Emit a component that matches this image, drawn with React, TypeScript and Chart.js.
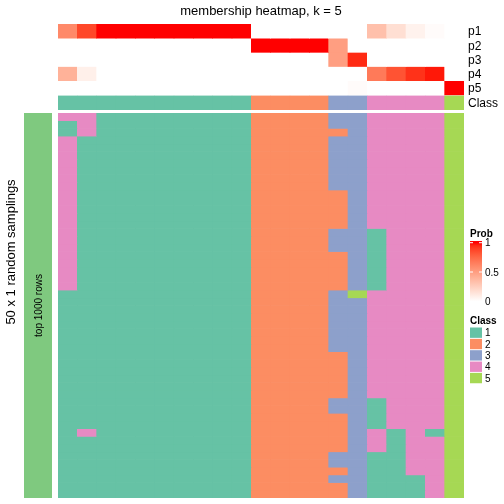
import React, { useEffect, useRef } from "react";
import { Chart, registerables } from "chart.js";

Chart.register(...registerables);

// ---------------- data ----------------
const SAMPLES = ["S1", "S2", "S3", "S4", "S5", "S6", "S7", "S8", "S9", "S10", "S11", "S12", "S13", "S14", "S15", "S16", "S17", "S18", "S19", "S20", "S21"];
const PROB_ROWS = ["p1", "p2", "p3", "p4", "p5"];
const P1 = [0.6, 0.87, 1, 1, 1, 1, 1, 1, 1, 1, 0, 0, 0, 0, 0, 0, 0.33, 0.17, 0.07, 0.02, 0];
const P2 = [0, 0, 0, 0, 0, 0, 0, 0, 0, 0, 1, 1, 1, 1, 0.5, 0, 0, 0, 0, 0, 0];
const P3 = [0, 0, 0, 0, 0, 0, 0, 0, 0, 0, 0, 0, 0, 0, 0.5, 0.95, 0, 0, 0, 0, 0];
const P4 = [0.4, 0.08, 0, 0, 0, 0, 0, 0, 0, 0, 0, 0, 0, 0, 0, 0, 0.67, 0.83, 0.93, 0.98, 0];
const P5 = [0, 0, 0, 0, 0, 0, 0, 0, 0, 0, 0, 0, 0, 0, 0, 0.02, 0, 0, 0, 0, 1];
const SAMPLE_CLASS = [1, 1, 1, 1, 1, 1, 1, 1, 1, 1, 2, 2, 2, 2, 3, 3, 4, 4, 4, 4, 5];
const CLASS_LABELS = ["1", "2", "3", "4", "5"];
const CLASS_COLORS = ["#66C2A5", "#FC8D62", "#8DA0CB", "#E78AC3", "#A6D854"];
const PROB_TICKS = [0, 0.5, 1];
// class of each sample (column) in each of the 50 random samplings (rows)
const SAMPLINGS = [
  "441111111122223344445",
  "141111111122223344445",
  "141111111122222344445",
  "411111111122223344445",
  "411111111122223344445",
  "411111111122223344445",
  "411111111122223344445",
  "411111111122223344445",
  "411111111122223344445",
  "411111111122223344445",
  "411111111122222344445",
  "411111111122222344445",
  "411111111122222344445",
  "411111111122222344445",
  "411111111122222344445",
  "411111111122223314445",
  "411111111122223314445",
  "411111111122223314445",
  "411111111122222314445",
  "411111111122222314445",
  "411111111122222314445",
  "411111111122222314445",
  "411111111122222314445",
  "111111111122223544445",
  "111111111122223344445",
  "111111111122223344445",
  "111111111122223344445",
  "111111111122223344445",
  "111111111122223344445",
  "111111111122223344445",
  "111111111122223344445",
  "111111111122222344445",
  "111111111122222344445",
  "111111111122222344445",
  "111111111122222344445",
  "111111111122222344445",
  "111111111122222344445",
  "111111111122223314445",
  "111111111122223314445",
  "111111111122222314445",
  "111111111122222314445",
  "141111111122222341415",
  "111111111122222341445",
  "111111111122222341445",
  "111111111122223311445",
  "111111111122223311445",
  "111111111122222311445",
  "111111111122223311145",
  "111111111122222311145",
  "111111111122222311145",
];
const TITLE = "membership heatmap, k = 5";
const ROW_TITLE = "50 x 1 random samplings";
const ANNO_LABEL = "top 1000 rows";
const ANNO_COLOR = "#7FC97F";

// ---------------- styling helpers ----------------
const FONT = "'Liberation Sans', Arial, Helvetica, sans-serif";
const W = 504;
const TOP_H = 112;
const MAIN_H = 504 - TOP_H;

function probColor(v: number): string {
  // white -> red interpolated in CIELAB
  const L = 100 + (53.2408 - 100) * v;
  const A = 80.0925 * v;
  const B = 67.2032 * v;
  const fy = (L + 16) / 116;
  const fx = fy + A / 500;
  const fz = fy - B / 200;
  const f = (t: number) => (t * t * t > 0.008856 ? t * t * t : (t - 16 / 116) / 7.787);
  const X = 0.95047 * f(fx);
  const Y = 1.0 * f(fy);
  const Z = 1.08883 * f(fz);
  const lin = [
    3.2406 * X - 1.5372 * Y - 0.4986 * Z,
    -0.9689 * X + 1.8758 * Y + 0.0415 * Z,
    0.0557 * X - 0.204 * Y + 1.057 * Z,
  ];
  const g = lin.map((c) => {
    const s = c <= 0.0031308 ? 12.92 * c : 1.055 * Math.pow(Math.max(c, 0), 1 / 2.4) - 0.055;
    return Math.round(Math.min(1, Math.max(0, s)) * 255);
  });
  return `rgb(${g[0]},${g[1]},${g[2]})`;
}

const barBase = {
  grouped: false,
  barPercentage: 1,
  categoryPercentage: 1,
  borderWidth: 0,
};

export default function App() {
  const topRef = useRef<HTMLCanvasElement | null>(null);
  const mainRef = useRef<HTMLCanvasElement | null>(null);

  useEffect(() => {
    const topRows = [P1, P2, P3, P4, P5];
    const CLASS_LO = 5.07;
    const topDatasets: any[] = topRows.map((vals, i) => ({
      ...barBase,
      label: PROB_ROWS[i],
      data: vals.map(() => [i, i + 1]),
      backgroundColor: vals.map(probColor),
    }));
    topDatasets.push({
      ...barBase,
      label: "Class",
      data: SAMPLE_CLASS.map(() => [CLASS_LO, CLASS_LO + 1]),
      backgroundColor: SAMPLE_CLASS.map((k) => CLASS_COLORS[k - 1]),
    });

    const topPlugin = {
      id: "topText",
      afterDraw(chart: any) {
        const ctx = chart.ctx;
        const { left, right } = chart.chartArea;
        const y = chart.scales.y;
        ctx.save();
        ctx.fillStyle = "#000";
        ctx.font = `13px ${FONT}`;
        ctx.textAlign = "center";
        ctx.textBaseline = "alphabetic";
        ctx.fillText(TITLE, (left + right) / 2, 14.7);
        ctx.font = `12px ${FONT}`;
        ctx.textAlign = "left";
        const names = [...PROB_ROWS, "Class"];
        const centers = [0.5, 1.5, 2.5, 3.5, 4.5, CLASS_LO + 0.5];
        names.forEach((n, i) => {
          ctx.fillText(n, right + 4, y.getPixelForValue(centers[i]) + 4.3);
        });
        ctx.restore();
      },
    };

    const topChart = new Chart(topRef.current as HTMLCanvasElement, {
      type: "bar",
      data: { labels: SAMPLES, datasets: topDatasets },
      options: {
        animation: false,
        responsive: false,
        devicePixelRatio: 1,
        layout: { padding: { left: 58, right: 40, top: 24, bottom: 2 } },
        plugins: { legend: { display: false }, tooltip: { enabled: false }, title: { display: false } },
        scales: {
          x: { display: false },
          y: { display: false, min: 0, max: CLASS_LO + 1, reverse: true },
        },
      },
      plugins: [topPlugin],
    } as any);

    const mainDatasets = SAMPLINGS.map((row, r) => ({
      ...barBase,
      label: `sampling ${r + 1}`,
      data: SAMPLES.map(() => [r, r + 1]),
      backgroundColor: row.split("").map((ch) => CLASS_COLORS[Number(ch) - 1]),
    }));

    const mainPlugin = {
      id: "mainDecor",
      afterDraw(chart: any) {
        const ctx = chart.ctx;
        const { top, bottom } = chart.chartArea;
        const off = TOP_H;
        ctx.save();
        // left annotation bar
        ctx.fillStyle = ANNO_COLOR;
        ctx.fillRect(24, top, 28, bottom - top);
        ctx.fillStyle = "#000";
        // anno label
        ctx.save();
        ctx.translate(41.5, (top + bottom) / 2);
        ctx.rotate(-Math.PI / 2);
        ctx.font = `10px ${FONT}`;
        ctx.textAlign = "center";
        ctx.textBaseline = "alphabetic";
        ctx.fillText(ANNO_LABEL, 0, 0);
        ctx.restore();
        // row title
        ctx.save();
        ctx.translate(15, 252 - off);
        ctx.rotate(-Math.PI / 2);
        ctx.font = `13px ${FONT}`;
        ctx.textAlign = "center";
        ctx.textBaseline = "alphabetic";
        ctx.fillText(ROW_TITLE, 0, 0);
        ctx.restore();

        // Prob legend
        const lx = 470;
        ctx.font = `bold 10px ${FONT}`;
        ctx.textAlign = "left";
        ctx.fillText("Prob", lx, 237 - off);
        const gTop = 241 - off;
        const gBot = 303 - off;
        const v1 = 242.7 - off;
        const v0 = 301.3 - off;
        const grad = ctx.createLinearGradient(0, v1, 0, v0);
        for (let i = 0; i <= 20; i++) {
          grad.addColorStop(i / 20, probColor(1 - i / 20));
        }
        ctx.fillStyle = grad;
        ctx.fillRect(lx, gTop, 12, gBot - gTop);
        ctx.font = `10px ${FONT}`;
        ctx.textBaseline = "middle";
        PROB_TICKS.forEach((t) => {
          const yy = v0 + (v1 - v0) * t;
          ctx.strokeStyle = "#fff";
          ctx.lineWidth = 1;
          ctx.beginPath();
          ctx.moveTo(lx, yy);
          ctx.lineTo(lx + 3, yy);
          ctx.moveTo(lx + 9, yy);
          ctx.lineTo(lx + 12, yy);
          ctx.stroke();
          ctx.fillStyle = "#000";
          ctx.fillText(String(t), lx + 15, yy + 1);
        });

        // Class legend
        ctx.textBaseline = "alphabetic";
        ctx.font = `bold 10px ${FONT}`;
        ctx.fillText("Class", lx, 324 - off);
        ctx.font = `10px ${FONT}`;
        ctx.textBaseline = "middle";
        const boxTop = 327 - off;
        const bh = 11.35;
        CLASS_LABELS.forEach((lab, i) => {
          const by = boxTop + i * bh;
          ctx.fillStyle = CLASS_COLORS[i];
          ctx.fillRect(lx, by + 0.5, 12, bh - 1);
          ctx.fillStyle = "#000";
          ctx.fillText(lab, lx + 15, by + bh / 2 + 1);
        });
        ctx.restore();
      },
    };

    const mainChart = new Chart(mainRef.current as HTMLCanvasElement, {
      type: "bar",
      data: { labels: SAMPLES, datasets: mainDatasets },
      options: {
        animation: false,
        responsive: false,
        devicePixelRatio: 1,
        layout: { padding: { left: 58, right: 40, top: 1, bottom: 6 } },
        plugins: { legend: { display: false }, tooltip: { enabled: false }, title: { display: false } },
        scales: {
          x: { display: false },
          y: { display: false, min: 0, max: SAMPLINGS.length, reverse: true },
        },
      },
      plugins: [mainPlugin],
    } as any);

    return () => {
      topChart.destroy();
      mainChart.destroy();
    };
  }, []);

  return (
    <div style={{ position: "absolute", left: 0, top: 0, width: W, height: 504, background: "#fff" }}>
      <canvas
        ref={topRef}
        width={W}
        height={TOP_H}
        style={{ position: "absolute", left: 0, top: 0, width: W, height: TOP_H }}
      />
      <canvas
        ref={mainRef}
        width={W}
        height={MAIN_H}
        style={{ position: "absolute", left: 0, top: TOP_H, width: W, height: MAIN_H }}
      />
    </div>
  );
}
